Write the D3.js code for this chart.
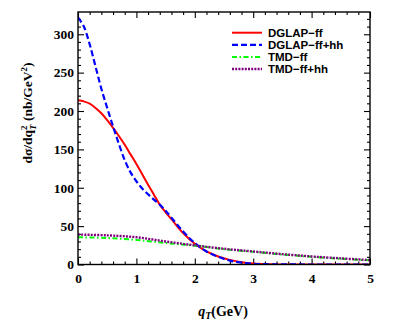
<!DOCTYPE html>
<html>
<head>
<meta charset="utf-8">
<script src="https://cdn.jsdelivr.net/npm/d3@7"></script>
<style>
    html, body { margin: 0; padding: 0; background: #fff; }
    svg { display: block; }
</style>
</head>
<body>
<div id="chart"></div>
<script>
(function () {
    'use strict';

    // values, qT in GeV, dsigma/dqT^2 in nb/GeV^2
    var qDglap = [0, 0.1, 0.2, 0.3, 0.4, 0.5, 0.6, 0.7, 0.8, 0.9, 1.0, 1.1, 1.2, 1.3, 1.4, 1.5, 1.6, 1.8, 2.0, 2.2, 2.4, 2.6, 2.8, 3.0, 3.3, 3.6, 4.0, 4.5, 5.0];
    var dglapFf = [214, 212.5, 209.5, 204, 197, 188, 178, 167.5, 156, 143.5, 131, 117.5, 104, 91, 78, 68, 59, 41, 27, 17, 10.5, 6, 3, 1.3, 0.4, 0.1, 0, 0, 0];
    var dglapFfHh = [322, 310, 287, 258, 229, 204, 180, 157, 136, 120, 108.5, 99, 91.5, 84.5, 78, 70, 61, 43, 28, 17, 10, 5, 2.5, 1, 0.3, 0.1, 0, 0, 0];

    var qTmd = [0, 0.5, 1.0, 1.5, 2.0, 2.5, 3.0, 3.5, 4.0, 4.5, 5.0];
    var tmdFf = [35.5, 34.5, 32, 28, 24.5, 20, 16.5, 13, 10, 7.5, 5.5];
    var tmdFfHh = [39, 38, 35.5, 30, 25, 20.5, 17, 13.5, 10.5, 8, 5.8];

    var xTicks = [0, 1, 2, 3, 4, 5];
    var yTicks = [0, 50, 100, 150, 200, 250, 300];

    var series = [
        { name: "DGLAP\u2212ff", q: qDglap, v: dglapFf, color: "#ff0000", width: 2, dash: null },
        { name: "DGLAP\u2212ff+hh", q: qDglap, v: dglapFfHh, color: "#0000ff", width: 2.2, dash: "6,3" },
        { name: "TMD\u2212ff", q: qTmd, v: tmdFf, color: "#00ff00", width: 2, dash: "5,2.5,1.5,2.5" },
        { name: "TMD\u2212ff+hh", q: qTmd, v: tmdFfHh, color: "#800080", width: 2.4, dash: "2,1.2" }
    ];

    var width = 409;
    var height = 327;
    var left = 78, right = 370, top = 12, bottom = 264.5;
    var serif = "'Liberation Serif', 'Times New Roman', serif";
    var sans = "'Liberation Sans', Arial, sans-serif";

    var svg = d3.select("#chart").append("svg")
        .attr("width", width)
        .attr("height", height);

    var x = d3.scaleLinear().domain([0, 5]).range([left, right]);
    var y = d3.scaleLinear().domain([0, 329]).range([bottom, top]);

    var minorX = d3.range(0, 5.001, 0.2).filter(function (d) { return Math.abs(d - Math.round(d)) > 1e-6; });
    var minorY = d3.range(0, 329, 10).filter(function (d) { return d % 50 !== 0; });

    // inward ticks on all four sides
    function addAxis(axis, tx, ty, labels) {
        var g = svg.append("g")
            .attr("transform", "translate(" + tx + "," + ty + ")")
            .call(axis);
        g.select(".domain").remove();
        g.selectAll("line").attr("stroke", "#000").attr("stroke-width", 1.1);
        g.selectAll("text")
            .attr("font-family", serif)
            .attr("font-weight", "bold")
            .attr("font-size", 13.5)
            .attr("fill", "#000");
        if (!labels) g.selectAll("text").remove();
        return g;
    }

    addAxis(d3.axisBottom(x).tickValues(xTicks).tickSize(-6).tickPadding(9).tickFormat(d3.format("d")), 0, bottom, true);
    addAxis(d3.axisBottom(x).tickValues(minorX).tickSize(-3), 0, bottom, false);
    addAxis(d3.axisTop(x).tickValues(xTicks).tickSize(-6), 0, top, false);
    addAxis(d3.axisTop(x).tickValues(minorX).tickSize(-3), 0, top, false);
    addAxis(d3.axisLeft(y).tickValues(yTicks).tickSize(-6).tickPadding(4).tickFormat(d3.format("d")), left, 0, true);
    addAxis(d3.axisLeft(y).tickValues(minorY).tickSize(-3), left, 0, false);
    addAxis(d3.axisRight(y).tickValues(yTicks).tickSize(-6), right, 0, false);
    addAxis(d3.axisRight(y).tickValues(minorY).tickSize(-3), right, 0, false);

    svg.append("defs").append("clipPath")
        .attr("id", "plot-clip")
        .append("rect")
        .attr("x", left)
        .attr("y", top)
        .attr("width", right - left)
        .attr("height", bottom - top);

    var line = d3.line()
        .x(function (d) { return x(d[0]); })
        .y(function (d) { return y(d[1]); })
        .curve(d3.curveCatmullRom.alpha(0.5));

    svg.append("g")
        .attr("clip-path", "url(#plot-clip)")
        .selectAll("path")
        .data(series)
        .enter().append("path")
        .attr("d", function (s) { return line(d3.zip(s.q, s.v)); })
        .attr("fill", "none")
        .attr("stroke", function (s) { return s.color; })
        .attr("stroke-width", function (s) { return s.width; })
        .attr("stroke-dasharray", function (s) { return s.dash; });

    svg.append("rect")
        .attr("x", left)
        .attr("y", top)
        .attr("width", right - left)
        .attr("height", bottom - top)
        .attr("fill", "none")
        .attr("stroke", "#000")
        .attr("stroke-width", 1.4);

    // legend
    var legend = svg.append("g")
        .selectAll("g")
        .data(series)
        .enter().append("g")
        .attr("transform", function (s, i) { return "translate(232," + (32.7 + i * 12.1) + ")"; });

    legend.append("line")
        .attr("x1", 0)
        .attr("x2", 30)
        .attr("stroke", function (s) { return s.color; })
        .attr("stroke-width", function (s) { return s.width; })
        .attr("stroke-dasharray", function (s) { return s.dash; });

    legend.append("text")
        .attr("x", 36)
        .attr("dy", "0.36em")
        .attr("font-family", sans)
        .attr("font-weight", "bold")
        .attr("font-size", 11.5)
        .text(function (s) { return s.name; });

    // axis titles
    var xt = svg.append("text")
        .attr("x", 223)
        .attr("y", 316)
        .attr("text-anchor", "middle")
        .attr("font-family", serif)
        .attr("font-weight", "bold")
        .attr("font-size", 14);
    xt.append("tspan").attr("font-style", "italic").text("q");
    xt.append("tspan").attr("font-style", "italic").attr("font-size", 10).attr("dy", 3).text("T");
    xt.append("tspan").attr("dy", -3).text("(GeV)");

    var yt = svg.append("text")
        .attr("transform", "translate(32,113) rotate(-90)")
        .attr("text-anchor", "middle")
        .attr("font-family", serif)
        .attr("font-weight", "bold")
        .attr("font-size", 13.5);
    yt.append("tspan").text("d\u03c3/dq");
    yt.append("tspan").attr("font-size", 9).attr("dy", -5).text("2");
    yt.append("tspan").attr("font-size", 9).attr("font-style", "italic").attr("dx", -4.5).attr("dy", 8.5).text("T");
    yt.append("tspan").attr("dy", -3.5).text(" (nb/GeV");
    yt.append("tspan").attr("font-size", 9).attr("dy", -5).text("2");
    yt.append("tspan").attr("dy", 5).text(")");
})();
</script>
</body>
</html>
